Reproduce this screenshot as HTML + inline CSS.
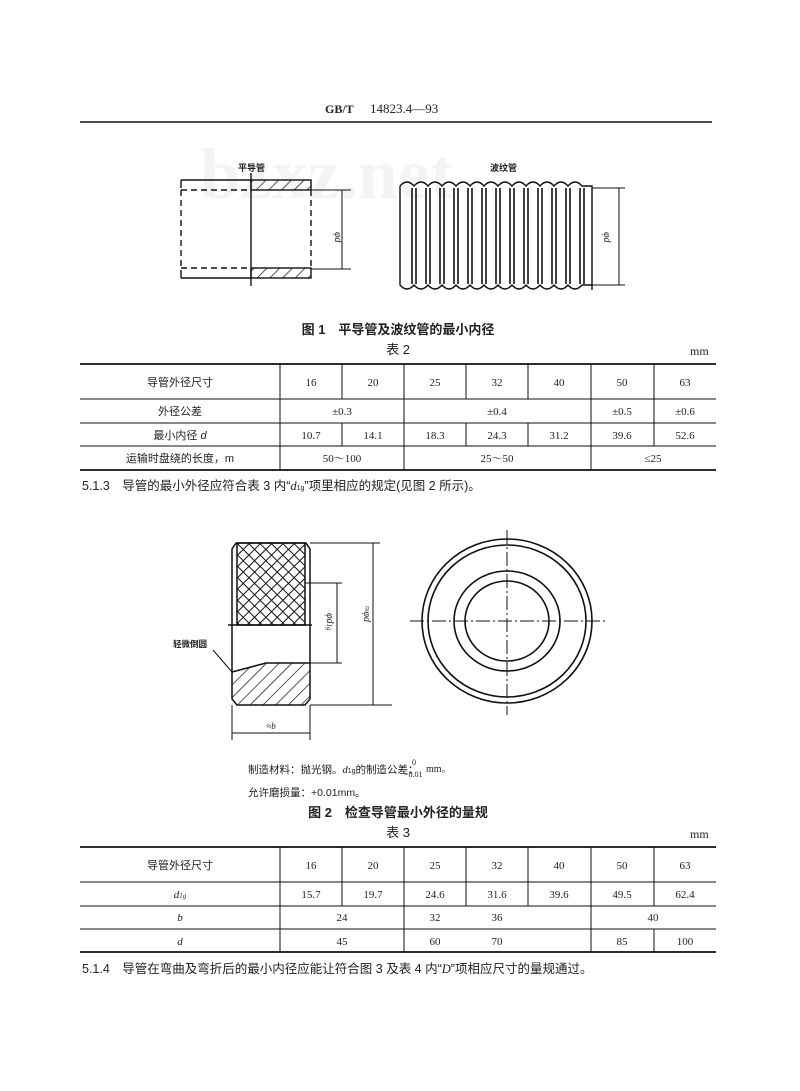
<!DOCTYPE html>
<html><head><meta charset="utf-8"><style>
html,body{margin:0;padding:0;background:#fff;}
svg{display:block;}
text{font-family:"Liberation Serif","Noto Serif CJK SC","Noto Sans CJK SC",serif;fill:#222;}
.cj{font-family:"Liberation Sans","Noto Sans CJK SC",sans-serif;}
</style></head><body>
<svg width="800" height="1091" viewBox="0 0 800 1091" xmlns="http://www.w3.org/2000/svg">
<defs>
<pattern id="h1" width="9" height="9" patternUnits="userSpaceOnUse" patternTransform="rotate(45)"><line x1="0" y1="0" x2="0" y2="9" stroke="#111" stroke-width="1.4"/></pattern>
<pattern id="kn" width="8" height="8" patternUnits="userSpaceOnUse" patternTransform="rotate(45)"><rect width="8" height="8" fill="#fff"/><line x1="0" y1="0" x2="0" y2="8" stroke="#111" stroke-width="2"/><line x1="0" y1="0" x2="8" y2="0" stroke="#111" stroke-width="2"/></pattern>
</defs>
<rect width="800" height="1091" fill="#fff"/>
<!-- watermark -->
<text x="200" y="198" font-family="Liberation Sans,sans-serif" font-size="72" font-weight="bold" style="fill:#f4f4f4">bzxz.net</text>
<!-- header -->
<text x="325" y="113" font-size="12" font-weight="bold">GB/T</text>
<text x="370" y="113" font-size="13" font-family="Liberation Sans,sans-serif">14823.4—93</text>
<line x1="80" y1="122" x2="712" y2="122" stroke="#111" stroke-width="1.5"/>

<!-- Fig1 flat tube -->
<g stroke="#111" fill="none" stroke-width="1.4">
<rect x="251" y="180" width="60" height="10" fill="url(#h1)"/>
<rect x="251" y="268" width="60" height="10" fill="url(#h1)"/>
<line x1="181" y1="180" x2="251" y2="180"/>
<line x1="181" y1="278" x2="251" y2="278"/>
<line x1="181" y1="180" x2="181" y2="188"/>
<line x1="181" y1="270" x2="181" y2="278"/>
<line x1="181" y1="190" x2="181" y2="268" stroke-dasharray="6,4"/>
<line x1="181" y1="190" x2="251" y2="190" stroke-dasharray="6,4"/>
<line x1="181" y1="268" x2="251" y2="268" stroke-dasharray="6,4"/>
<line x1="311" y1="190" x2="311" y2="268" stroke-dasharray="6,4"/>
<line x1="251" y1="173" x2="251" y2="286"/>
<line x1="311" y1="190" x2="351" y2="190" stroke-width="1"/>
<line x1="311" y1="269" x2="351" y2="269" stroke-width="1"/>
<line x1="342" y1="190" x2="342" y2="269" stroke-width="1"/>
</g>
<text x="238" y="171" font-size="9" class="cj" font-weight="bold">平导管</text>
<text transform="translate(335,232) rotate(90)" font-size="10" font-style="italic">φd</text>

<!-- Fig1 corrugated -->
<g stroke="#111" fill="none" stroke-width="1.4">
<path d="M400,186 q7,-8 14,0 q7,-8 14,0 q7,-8 14,0 q7,-8 14,0 q7,-8 14,0 q7,-8 14,0 q7,-8 14,0 q7,-8 14,0 q7,-8 14,0 q7,-8 14,0 q7,-8 14,0 q7,-8 14,0 q7,-8 14,0 l10,0 L592,290 M400,186 L400,285 q7,8 14,0 q7,8 14,0 q7,8 14,0 q7,8 14,0 q7,8 14,0 q7,8 14,0 q7,8 14,0 q7,8 14,0 q7,8 14,0 q7,8 14,0 q7,8 14,0 q7,8 14,0 q7,8 14,0 l10,0"/>
<g stroke-width="1.6">
<line x1="412" y1="188" x2="412" y2="284"/><line x1="416" y1="188" x2="416" y2="284"/>
<line x1="426" y1="188" x2="426" y2="284"/><line x1="430" y1="188" x2="430" y2="284"/>
<line x1="440" y1="188" x2="440" y2="284"/><line x1="444" y1="188" x2="444" y2="284"/>
<line x1="454" y1="188" x2="454" y2="284"/><line x1="458" y1="188" x2="458" y2="284"/>
<line x1="468" y1="188" x2="468" y2="284"/><line x1="472" y1="188" x2="472" y2="284"/>
<line x1="482" y1="188" x2="482" y2="284"/><line x1="486" y1="188" x2="486" y2="284"/>
<line x1="496" y1="188" x2="496" y2="284"/><line x1="500" y1="188" x2="500" y2="284"/>
<line x1="510" y1="188" x2="510" y2="284"/><line x1="514" y1="188" x2="514" y2="284"/>
<line x1="524" y1="188" x2="524" y2="284"/><line x1="528" y1="188" x2="528" y2="284"/>
<line x1="538" y1="188" x2="538" y2="284"/><line x1="542" y1="188" x2="542" y2="284"/>
<line x1="552" y1="188" x2="552" y2="284"/><line x1="556" y1="188" x2="556" y2="284"/>
<line x1="566" y1="188" x2="566" y2="284"/><line x1="570" y1="188" x2="570" y2="284"/>
<line x1="580" y1="188" x2="580" y2="284"/><line x1="584" y1="188" x2="584" y2="284"/>
</g>
<line x1="592" y1="188" x2="625" y2="188" stroke-width="1"/>
<line x1="592" y1="285" x2="625" y2="285" stroke-width="1"/>
<line x1="619" y1="188" x2="619" y2="285" stroke-width="1"/>
</g>
<text x="490" y="171" font-size="9" class="cj" font-weight="bold">波纹管</text>
<text transform="translate(604,232) rotate(90)" font-size="10" font-style="italic">φd</text>

<text x="398" y="334" font-size="13" text-anchor="middle" class="cj" font-weight="bold">图 1　平导管及波纹管的最小内径</text>
<text x="398" y="354" font-size="13" text-anchor="middle" class="cj">表 2</text>
<text x="690" y="355" font-size="12">mm</text>

<!-- Table 2 -->
<g stroke="#111" stroke-width="1">
<line x1="80" y1="364" x2="716" y2="364" stroke-width="1.8"/>
<line x1="80" y1="399" x2="716" y2="399"/>
<line x1="80" y1="423" x2="716" y2="423"/>
<line x1="80" y1="446" x2="716" y2="446"/>
<line x1="80" y1="470" x2="716" y2="470" stroke-width="1.8"/>
<line x1="280" y1="364" x2="280" y2="470"/>
<line x1="404" y1="364" x2="404" y2="470"/>
<line x1="591" y1="364" x2="591" y2="470"/>
<line x1="654" y1="364" x2="654" y2="446"/>
<line x1="342" y1="364" x2="342" y2="399"/><line x1="342" y1="423" x2="342" y2="446"/>
<line x1="466" y1="364" x2="466" y2="399"/><line x1="466" y1="423" x2="466" y2="446"/>
<line x1="528" y1="364" x2="528" y2="399"/><line x1="528" y1="423" x2="528" y2="446"/>
</g>
<g font-size="11" text-anchor="middle">
<text x="180" y="386" class="cj">导管外径尺寸</text>
<text x="311" y="386">16</text><text x="373" y="386">20</text><text x="435" y="386">25</text><text x="497" y="386">32</text><text x="559" y="386">40</text><text x="622" y="386">50</text><text x="685" y="386">63</text>
<text x="180" y="415" class="cj">外径公差</text>
<text x="342" y="415">±0.3</text><text x="497" y="415">±0.4</text><text x="622" y="415">±0.5</text><text x="685" y="415">±0.6</text>
<text x="180" y="439" class="cj">最小内径 <tspan font-style="italic">d</tspan></text>
<text x="311" y="439">10.7</text><text x="373" y="439">14.1</text><text x="435" y="439">18.3</text><text x="497" y="439">24.3</text><text x="559" y="439">31.2</text><text x="622" y="439">39.6</text><text x="685" y="439">52.6</text>
<text x="180" y="462" class="cj">运输时盘绕的长度，m</text>
<text x="342" y="462">50～100</text><text x="497" y="462">25～50</text><text x="653" y="462">≤25</text>
</g>
<text x="82" y="490" font-size="12.5" class="cj">5.1.3　导管的最小外径应符合表 3 内“<tspan font-style="italic" font-family="Liberation Serif,serif">d</tspan><tspan font-size="7">1g</tspan>”项里相应的规定(见图 2 所示)。</text>

<!-- Fig2 left -->
<g stroke="#111" fill="none" stroke-width="1.5">
<path d="M237,543 L305,543 L305,625 L237,625 Z" fill="url(#kn)"/>
<path d="M236,543 L306,543 L310,549 L310,625 M236,543 L232,549 L232,625"/>
<line x1="228" y1="625" x2="312" y2="625"/>
<path d="M232,625 L232,672 M310,625 L310,663"/>
<path d="M232,672 L266,663 L310,663 L310,699 L305,705 L237,705 L232,699 Z" fill="url(#h1)"/>
<line x1="305" y1="583" x2="342" y2="583" stroke-width="1"/>
<line x1="310" y1="663" x2="342" y2="663" stroke-width="1"/>
<line x1="337" y1="583" x2="337" y2="663" stroke-width="1"/>
<line x1="310" y1="543" x2="380" y2="543" stroke-width="1"/>
<line x1="310" y1="705" x2="392" y2="705" stroke-width="1"/>
<line x1="373" y1="543" x2="373" y2="705" stroke-width="1"/>
<line x1="232" y1="705" x2="232" y2="740" stroke-width="1"/>
<line x1="310" y1="705" x2="310" y2="740" stroke-width="1"/>
<line x1="232" y1="733" x2="310" y2="733" stroke-width="1"/>
<line x1="213" y1="650" x2="232" y2="672" stroke-width="1"/>
</g>
<text transform="translate(327,613) rotate(90)" font-size="10" font-style="italic">φd<tspan font-size="7">1g</tspan></text>
<text transform="translate(364,606) rotate(90)" font-size="10" font-style="italic">≈φd</text>
<text x="271" y="729" font-size="9" text-anchor="middle" font-style="italic">≈b</text>
<text x="173" y="647" font-size="8.5" class="cj" font-weight="bold">轻微倒圆</text>

<!-- Fig2 right circles -->
<g stroke="#111" fill="none" stroke-width="1.6">
<ellipse cx="507" cy="621" rx="85" ry="82"/>
<ellipse cx="507" cy="621" rx="79" ry="76"/>
<ellipse cx="507" cy="621" rx="53" ry="50"/>
<ellipse cx="507" cy="621" rx="42" ry="40"/>
<line x1="410" y1="621" x2="607" y2="621" stroke-width="1" stroke-dasharray="14,3,2,3"/>
<line x1="507" y1="530" x2="507" y2="715" stroke-width="1" stroke-dasharray="14,3,2,3"/>
</g>

<text x="248" y="773" font-size="10.5" class="cj">制造材料：抛光钢。<tspan font-style="italic" font-family="Liberation Serif,serif">d</tspan><tspan font-size="7">1g</tspan>的制造公差：</text>
<text x="412" y="765" font-size="8">0</text>
<text x="404" y="777" font-size="8">−0.01</text>
<text x="426" y="772" font-size="10">mm。</text>
<text x="248" y="796" font-size="10.5" class="cj">允许磨损量：+0.01mm。</text>
<text x="398" y="817" font-size="13" text-anchor="middle" class="cj" font-weight="bold">图 2　检查导管最小外径的量规</text>
<text x="398" y="837" font-size="13" text-anchor="middle" class="cj">表 3</text>
<text x="690" y="838" font-size="12">mm</text>

<!-- Table 3 -->
<g stroke="#111" stroke-width="1">
<line x1="80" y1="847" x2="716" y2="847" stroke-width="1.8"/>
<line x1="80" y1="882" x2="716" y2="882"/>
<line x1="80" y1="906" x2="716" y2="906"/>
<line x1="80" y1="929" x2="716" y2="929"/>
<line x1="80" y1="952" x2="716" y2="952" stroke-width="1.8"/>
<line x1="280" y1="847" x2="280" y2="952"/>
<line x1="404" y1="847" x2="404" y2="952"/>
<line x1="466" y1="847" x2="466" y2="906"/>
<line x1="591" y1="847" x2="591" y2="952"/>
<line x1="342" y1="847" x2="342" y2="906"/>
<line x1="528" y1="847" x2="528" y2="906"/>
<line x1="654" y1="847" x2="654" y2="906"/><line x1="654" y1="929" x2="654" y2="952"/>
</g>
<g font-size="11" text-anchor="middle">
<text x="180" y="869" class="cj">导管外径尺寸</text>
<text x="311" y="869">16</text><text x="373" y="869">20</text><text x="435" y="869">25</text><text x="497" y="869">32</text><text x="559" y="869">40</text><text x="622" y="869">50</text><text x="685" y="869">63</text>
<text x="180" y="898" font-style="italic">d<tspan font-size="7">1g</tspan></text>
<text x="311" y="898">15.7</text><text x="373" y="898">19.7</text><text x="435" y="898">24.6</text><text x="497" y="898">31.6</text><text x="559" y="898">39.6</text><text x="622" y="898">49.5</text><text x="685" y="898">62.4</text>
<text x="180" y="921" font-style="italic">b</text>
<text x="342" y="921">24</text><text x="435" y="921">32</text><text x="497" y="921">36</text><text x="653" y="921">40</text>
<text x="180" y="945" font-style="italic">d</text>
<text x="342" y="945">45</text><text x="435" y="945">60</text><text x="497" y="945">70</text><text x="622" y="945">85</text><text x="685" y="945">100</text>
</g>
<text x="82" y="973" font-size="12.5" class="cj">5.1.4　导管在弯曲及弯折后的最小内径应能让符合图 3 及表 4 内“<tspan font-style="italic" font-family="Liberation Serif,serif">D</tspan>”项相应尺寸的量规通过。</text>
</svg>
</body></html>
